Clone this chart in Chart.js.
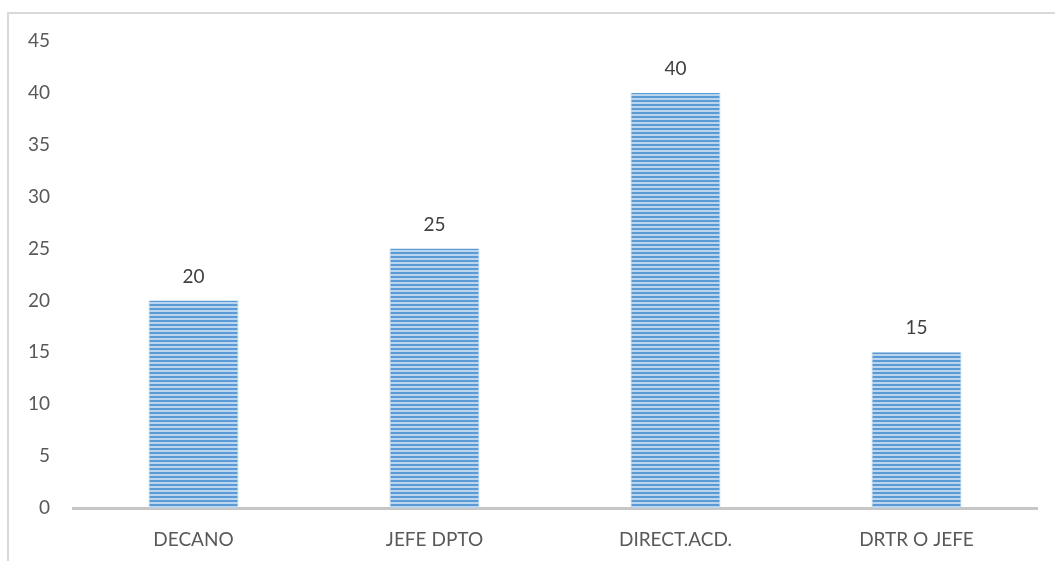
<!DOCTYPE html>
<html>
  <head>
    <style>
      html, body {
        margin: 0;
        padding: 0;
        background: #ffffff;
        overflow: hidden;
      }
      .frame {
        position: absolute;
        left: 7px;
        top: 12px;
        width: 1060px;
        height: 560px;
        border-left: 2px solid #d9d9d9;
        border-top: 2px solid #d9d9d9;
      }
      .container {
        position: absolute;
        left: 0;
        top: 0;
        width: 1055px;
        height: 561px;
      }
    </style>
  </head>
  <body>
    <div class="frame"></div>
    <div class="container">
      <canvas id="cargos" width="1055" height="561"></canvas>
    </div>

    <script src="https://cdn.jsdelivr.net/npm/chart.js"></script>
    <script>
      const categories = ['DECANO', 'JEFE DPTO', 'DIRECT.ACD.', 'DRTR O JEFE'];
      const values = [20, 25, 40, 15];
      const yTicks = [0, 5, 10, 15, 20, 25, 30, 35, 40, 45];

      const FONT = 'Lato, "Open Sans", sans-serif';

      // horizontal stripe fill for the bars
      function stripes() {
        const c = document.createElement('canvas');
        c.width = 4;
        c.height = 4;
        const g = c.getContext('2d');
        g.fillStyle = '#bcd5ee';
        g.fillRect(0, 0, 4, 4);
        g.fillStyle = '#5b9bd5';
        g.fillRect(0, 0, 4, 2);
        return g.createPattern(c, 'repeat');
      }

      const valueLabels = {
        id: 'valueLabels',
        afterDatasetsDraw(chart) {
          const ctx = chart.ctx;
          const meta = chart.getDatasetMeta(0);
          ctx.save();
          ctx.font = '19px ' + FONT;
          ctx.fillStyle = '#404040';
          ctx.textAlign = 'center';
          ctx.textBaseline = 'middle';
          meta.data.forEach((bar, i) => {
            ctx.fillText(String(values[i]), bar.x, bar.y - 24);
          });
          ctx.restore();
        },
      };

      const config = {
        type: 'bar',
        data: {
          labels: categories,
          datasets: [
            {
              data: values,
              backgroundColor: stripes(),
              borderColor: '#a9cbea',
              borderWidth: { left: 1, right: 1, top: 0, bottom: 0 },
              borderSkipped: false,
              categoryPercentage: 1,
              barPercentage: 0.373,
            },
          ],
        },
        options: {
          responsive: false,
          animation: false,
          layout: {
            padding: { left: 0, right: 18, top: 41, bottom: 0 },
          },
          plugins: {
            legend: { display: false },
            tooltip: { enabled: false },
          },
          scales: {
            x: {
              grid: { display: false, drawTicks: false },
              border: { display: true, color: '#c6c6c6', width: 3 },
              ticks: {
                color: '#595959',
                font: { family: FONT, size: 19 },
                padding: 20,
              },
              afterFit(scale) {
                scale.height = 53;
              },
            },
            y: {
              min: 0,
              max: 45,
              afterBuildTicks(scale) {
                scale.ticks = yTicks.map((v) => ({ value: v }));
              },
              grid: { display: false, drawTicks: false },
              border: { display: false },
              ticks: {
                color: '#595959',
                font: { family: FONT, size: 19 },
                padding: 23,
              },
              afterFit(scale) {
                scale.width = 73;
              },
            },
          },
        },
        plugins: [valueLabels],
      };

      new Chart(document.getElementById('cargos'), config);
    </script>
  </body>
</html>
